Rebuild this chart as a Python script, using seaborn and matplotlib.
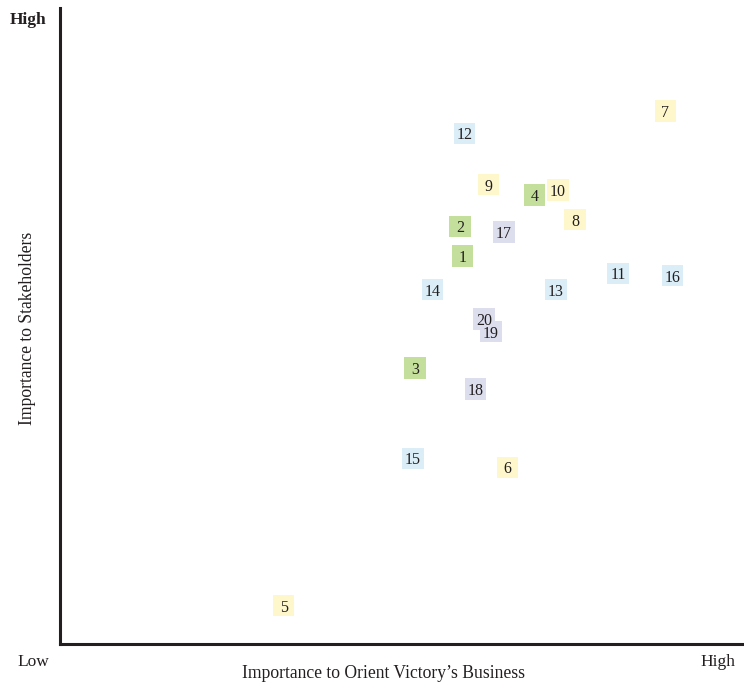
import matplotlib.pyplot as plt
import seaborn as sns
import pandas as pd

# materiality matrix: topic id, business importance (x), stakeholder importance (y), group
topic_ids = [1, 2, 3, 4, 5, 6, 7, 8, 9, 10, 11, 12, 13, 14, 15, 16, 17, 18, 19, 20]
business = [58.8, 58.5, 51.9, 69.4, 32.7, 65.4, 88.5, 75.3, 62.6, 72.8,
            81.6, 59.1, 72.5, 54.5, 51.6, 89.5, 64.9, 60.7, 63.0, 62.0]
stakeholders = [61.0, 65.7, 43.4, 70.6, 6.0, 27.8, 83.8, 66.7, 72.2, 71.4,
                58.3, 80.3, 55.7, 55.7, 29.2, 57.9, 64.8, 40.1, 49.1, 51.1]
groups = ["green"] * 4 + ["yellow"] * 6 + ["blue"] * 6 + ["lavender"] * 4

group_colors = {"green": "#c4df9b", "yellow": "#fff7cc", "blue": "#dbeef8", "lavender": "#dcdeee"}
ink = "#231f20"

df = pd.DataFrame({"id": topic_ids, "x": business, "y": stakeholders, "group": groups})

sns.set_style("white")
plt.rcParams["font.family"] = ["Liberation Serif", "DejaVu Serif"]

fig = plt.figure(figsize=(7.44, 6.85), dpi=100)
ax = fig.add_axes([60 / 744, 41 / 685, 684 / 744, 636 / 685])

sns.scatterplot(data=df, x="x", y="y", hue="group", palette=group_colors,
                marker="s", s=235, edgecolor="none", legend=False, ax=ax, clip_on=False)

for _, r in df.iterrows():
    ax.text(r["x"], r["y"], str(r["id"]), ha="center", va="center_baseline",
            fontsize=11.5, color=ink)

ax.set_xlim(0, 100)
ax.set_ylim(0, 100)
ax.set_xticks([])
ax.set_yticks([])
ax.set_xlabel("")
ax.set_ylabel("")
for side in ["top", "right"]:
    ax.spines[side].set_visible(False)
for side in ["left", "bottom"]:
    ax.spines[side].set_linewidth(2.2)
    ax.spines[side].set_color(ink)

# axis annotations in figure pixel coordinates
W, H = 744, 685
fig.text(28 / W, 1 - 20 / H, "High", ha="center", va="center", fontsize=12.5, fontweight="bold", color=ink)
fig.text(33 / W, 1 - 662 / H, "Low", ha="center", va="center", fontsize=12.5, color=ink)
fig.text(718 / W, 1 - 662 / H, "High", ha="center", va="center", fontsize=12.5, color=ink)
fig.text(384 / W, 1 - 673 / H, "Importance to Orient Victory\u2019s Business", ha="center", va="center",
         fontsize=12.7, color=ink)
fig.text(28 / W, 1 - 328 / H, "Importance to Stakeholders", ha="center", va="center",
         rotation=90, fontsize=12.7, color=ink)

fig.savefig("out.png", dpi=100)
plt.close(fig)
